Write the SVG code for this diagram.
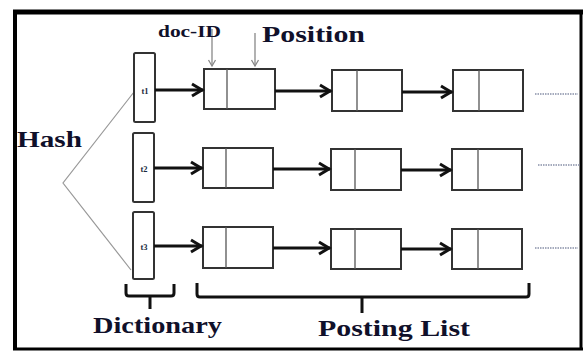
<svg xmlns="http://www.w3.org/2000/svg" width="584" height="351" viewBox="0 0 584 351">
  <defs>
    <style>
      .lbl { font-family: "Liberation Serif", "Times New Roman", serif; font-weight: bold; fill: #10102a; }
      .term { font-family: "Liberation Serif", serif; font-weight: bold; font-size: 8.5px; fill: #1a2a40; }
      .dict { fill: #fff; stroke: #333; stroke-width: 2; }
      .cell { fill: #fff; stroke: #333; stroke-width: 2; }
      .div { stroke: #555; stroke-width: 1.3; }
      .link { fill: none; stroke: #111; stroke-width: 3; marker-end: url(#head); }
      .ptr { fill: none; stroke: #888; stroke-width: 1.3; marker-end: url(#smallhead); }
      .more { fill: none; stroke: #8890a8; stroke-width: 1.5; stroke-dasharray: 1.5 1; }
      .hash { fill: none; stroke: #999; stroke-width: 1.2; }
      .brace { fill: none; stroke: #111; stroke-width: 3; stroke-linejoin: round; }
    </style>
    <marker id="head" viewBox="-14 -8 16 16" refX="0" refY="0" markerWidth="16" markerHeight="16" orient="auto" markerUnits="userSpaceOnUse">
      <path d="M-11,-6 L-1,0 L-11,6" fill="none" stroke="#111" stroke-width="3"/>
    </marker>
    <marker id="smallhead" viewBox="-8 -5 10 10" refX="0" refY="0" markerWidth="10" markerHeight="10" orient="auto" markerUnits="userSpaceOnUse">
      <path d="M-6,-3.5 L0,0 L-6,3.5" fill="none" stroke="#888" stroke-width="1.3"/>
    </marker>
  </defs>

  <rect width="584" height="351" fill="#fff"/>

  <!-- outer frame -->
  <g id="frame" stroke="#000" fill="none">
    <line x1="13" y1="12" x2="583" y2="12" stroke-width="5"/>
    <line x1="15" y1="10" x2="15" y2="350" stroke-width="4"/>
    <line x1="581" y1="10" x2="581" y2="350" stroke-width="3"/>
    <line x1="13" y1="349" x2="583" y2="349" stroke-width="3"/>
  </g>

  <!-- hash fan into dictionary -->
  <g id="hash">
    <polyline class="hash" points="134,92 63,183 131,270"/>
    <text class="lbl" x="17" y="147" font-size="24" textLength="65" lengthAdjust="spacingAndGlyphs">Hash</text>
  </g>

  <!-- dictionary entries -->
  <g id="t1">
    <rect class="dict" x="134" y="53" width="21" height="69" rx="1.5"/>
    <text class="term" x="141.5" y="94">t1</text>
  </g>
  <g id="t2">
    <rect class="dict" x="133" y="133" width="21" height="69" rx="1.5"/>
    <text class="term" x="140.5" y="172">t2</text>
  </g>
  <g id="t3">
    <rect class="dict" x="133" y="212" width="21" height="67" rx="1.5"/>
    <text class="term" x="140.5" y="250">t3</text>
  </g>

  <!-- posting cells, row 1 -->
  <g id="p11"><rect class="cell" x="204" y="69" width="71" height="40"/><line class="div" x1="227" y1="69" x2="227" y2="109"/></g>
  <g id="p12"><rect class="cell" x="332" y="70" width="70" height="41"/><line class="div" x1="357" y1="70" x2="357" y2="111"/></g>
  <g id="p13"><rect class="cell" x="453" y="70" width="70" height="41"/><line class="div" x1="479" y1="70" x2="479" y2="111"/></g>

  <!-- posting cells, row 2 -->
  <g id="p21"><rect class="cell" x="203" y="148" width="70" height="40"/><line class="div" x1="226" y1="148" x2="226" y2="188"/></g>
  <g id="p22"><rect class="cell" x="331" y="149" width="70" height="41"/><line class="div" x1="355" y1="149" x2="355" y2="190"/></g>
  <g id="p23"><rect class="cell" x="452" y="149" width="70" height="41"/><line class="div" x1="478" y1="149" x2="478" y2="190"/></g>

  <!-- posting cells, row 3 -->
  <g id="p31"><rect class="cell" x="203" y="227" width="70" height="41"/><line class="div" x1="226" y1="227" x2="226" y2="268"/></g>
  <g id="p32"><rect class="cell" x="331" y="229" width="70" height="40"/><line class="div" x1="355" y1="229" x2="355" y2="269"/></g>
  <g id="p33"><rect class="cell" x="452" y="229" width="70" height="40"/><line class="div" x1="478" y1="229" x2="478" y2="269"/></g>

  <!-- links -->
  <g id="connectors">
    <line class="link" x1="155" y1="90" x2="203" y2="90"/>
    <line class="link" x1="275" y1="91" x2="331" y2="91"/>
    <line class="link" x1="402" y1="92" x2="452" y2="92"/>

    <line class="link" x1="154" y1="168" x2="202" y2="168"/>
    <line class="link" x1="273" y1="169" x2="330" y2="169"/>
    <line class="link" x1="401" y1="170" x2="451" y2="170"/>

    <line class="link" x1="154" y1="246" x2="202" y2="246"/>
    <line class="link" x1="273" y1="248" x2="330" y2="248"/>
    <line class="link" x1="401" y1="249" x2="451" y2="249"/>

    <line class="more" x1="535" y1="94" x2="578" y2="94"/>
    <line class="more" x1="538" y1="165" x2="580" y2="165"/>
    <line class="more" x1="535" y1="248" x2="578" y2="248"/>

    <line class="ptr" x1="212" y1="29" x2="212" y2="66"/>
    <line class="ptr" x1="255" y1="33" x2="255" y2="66"/>
  </g>

  <!-- field labels -->
  <g id="doc-id-label">
    <text class="lbl" x="158" y="37" font-size="17" textLength="63" lengthAdjust="spacingAndGlyphs">doc-ID</text>
  </g>
  <g id="position-label">
    <text class="lbl" x="262" y="42" font-size="24" textLength="103" lengthAdjust="spacingAndGlyphs">Position</text>
  </g>

  <!-- braces and group labels -->
  <g id="dictionary">
    <path class="brace" d="M126,284 V293 Q126,296 129,296 H171 Q174,296 174,293 V284 M150,296 V309"/>
    <text class="lbl" x="93" y="333" font-size="24" textLength="129" lengthAdjust="spacingAndGlyphs">Dictionary</text>
  </g>
  <g id="posting-list">
    <path class="brace" d="M197,283 V294 Q197,297 200,297 H526 Q529,297 529,294 V283 M362,297 V313"/>
    <text class="lbl" x="318" y="336" font-size="24" textLength="152" lengthAdjust="spacingAndGlyphs">Posting List</text>
  </g>
</svg>
